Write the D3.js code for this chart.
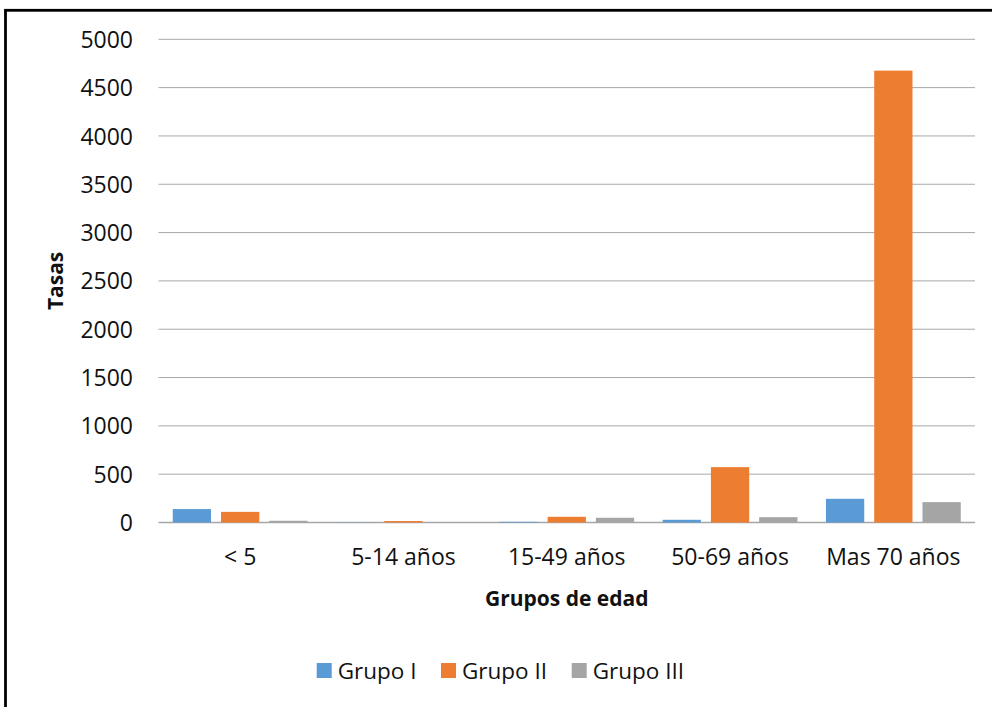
<!DOCTYPE html>
<html>
<head>
<meta charset="utf-8">
<script src="https://cdn.jsdelivr.net/npm/d3@7"></script>
<style>
  html, body { margin: 0; padding: 0; background: #fff; }
  svg { display: block; font-family: "Open Sans", "Noto Sans", sans-serif; }
</style>
</head>
<body>
<svg id="chart" width="992" height="707"></svg>
<script>
// Tasas por grupos de edad
const categories = ["< 5", "5-14 años", "15-49 años", "50-69 años", "Mas 70 años"];
const seriesNames = ["Grupo I", "Grupo II", "Grupo III"];
const grupoI   = [139, 2, 7, 28, 245];
const grupoII  = [110, 15, 59, 573, 4676];
const grupoIII = [18, 5, 49, 55, 211];
const yTicks = [0, 500, 1000, 1500, 2000, 2500, 3000, 3500, 4000, 4500, 5000];
const colors = ["#5B9BD5", "#ED7D31", "#A5A5A5"];

const seriesValues = [grupoI, grupoII, grupoIII];
const rows = categories.map((c, i) => ({
  category: c,
  values: seriesNames.map((s, j) => ({ series: s, value: seriesValues[j][i] }))
}));

const svg = d3.select("#chart");
const plot = { left: 158.5, right: 975, top: 39.3, bottom: 522.5 };

// Outer frame (only top and left edges fall inside the canvas)
svg.append("rect")
  .attr("x", 5.5).attr("y", 10.3)
  .attr("width", 1000).attr("height", 720)
  .attr("fill", "none").attr("stroke", "#000").attr("stroke-width", 2.8);

const y = d3.scaleLinear().domain([0, 5000]).range([plot.bottom, plot.top]);
const x0 = d3.scaleBand().domain(categories).range([plot.left, plot.right]).padding(0);
const x1 = d3.scaleBand().domain(seriesNames).range([0, x0.bandwidth()])
  .paddingInner(0.207).paddingOuter(0.295);

// Gridlines
svg.append("g")
  .selectAll("line")
  .data(yTicks)
  .join("line")
  .attr("x1", plot.left).attr("x2", plot.right)
  .attr("y1", d => y(d)).attr("y2", d => y(d))
  .attr("stroke", d => d === 0 ? "#a6a6a6" : "#a8a8a8")
  .attr("stroke-width", d => d === 0 ? 1.4 : 1);

// Y axis labels
const yAxis = d3.axisLeft(y).tickValues(yTicks).tickFormat(d3.format("d"))
  .tickSize(0).tickPadding(0);
const gy = svg.append("g").attr("transform", `translate(133,0)`).call(yAxis);
gy.select(".domain").remove();
gy.selectAll("text")
  .attr("font-family", "'Open Sans', sans-serif")
  .attr("font-size", 23).attr("fill", "#111")
  .attr("dy", "0.35em");

// Bars
const groups = svg.append("g")
  .selectAll("g")
  .data(rows)
  .join("g")
  .attr("transform", d => `translate(${x0(d.category)},0)`);

groups.selectAll("rect")
  .data(d => d.values)
  .join("rect")
  .attr("x", d => x1(d.series))
  .attr("width", x1.bandwidth())
  .attr("y", d => y(d.value))
  .attr("height", d => y(0) - y(d.value))
  .attr("fill", (d, i) => colors[i]);

// X axis labels
const xAxis = d3.axisBottom(x0).tickSize(0).tickPadding(0);
const gx = svg.append("g").attr("transform", `translate(0,${plot.bottom})`).call(xAxis);
gx.select(".domain").remove();
gx.selectAll("text")
  .attr("font-family", "'Open Sans', sans-serif")
  .attr("font-size", 23).attr("fill", "#111")
  .attr("dy", 0).attr("y", 42);

// Axis titles
svg.append("text")
  .attr("x", (plot.left + plot.right) / 2).attr("y", 606)
  .attr("text-anchor", "middle")
  .attr("font-size", 21).attr("font-weight", "bold").attr("fill", "#111")
  .text("Grupos de edad");

svg.append("text")
  .attr("transform", `translate(63,${(plot.top + plot.bottom) / 2}) rotate(-90)`)
  .attr("text-anchor", "middle")
  .attr("font-size", 21).attr("font-weight", "bold").attr("fill", "#111")
  .text("Tasas");

// Legend
const legendX = [316.7, 441, 571.7];
const legend = svg.append("g")
  .selectAll("g")
  .data(seriesNames)
  .join("g")
  .attr("transform", (d, i) => `translate(${legendX[i]},663)`);
legend.append("rect")
  .attr("width", 15).attr("height", 15)
  .attr("fill", (d, i) => colors[i]);
legend.append("text")
  .attr("x", 21).attr("y", 15.5)
  .attr("font-size", 22.5).attr("fill", "#111")
  .text(d => d);
</script>
</body>
</html>
